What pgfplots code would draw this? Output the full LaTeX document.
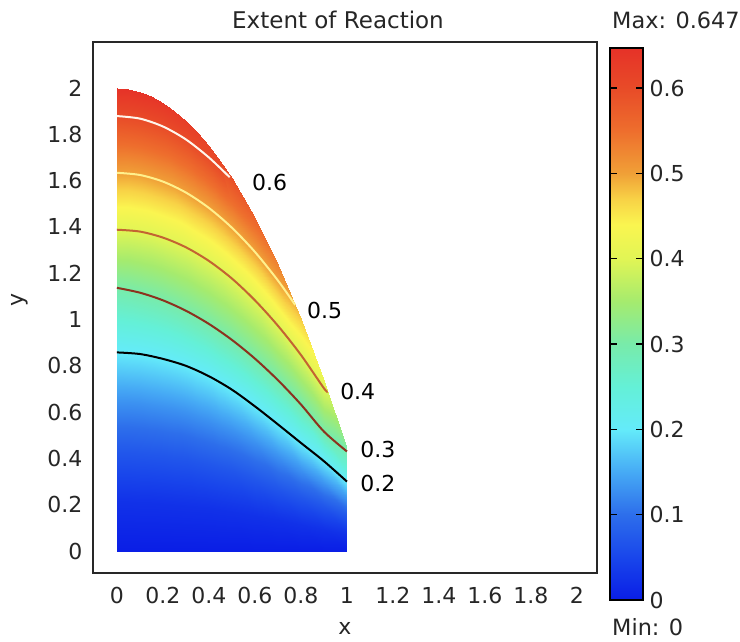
\documentclass[border=0pt]{standalone}
\usepackage{pgfplots}
\pgfplotsset{compat=1.18}
\usepackage{fontspec}
\setmainfont{DejaVu Sans}
\pgfplotsset{colormap={comsol}{
rgb255(0pt)=(10,30,230);
rgb255(50pt)=(25,70,235);
rgb255(100pt)=(45,110,235);
rgb255(150pt)=(70,170,245);
rgb255(200pt)=(100,235,250);
rgb255(250pt)=(100,240,215);
rgb255(300pt)=(120,235,170);
rgb255(350pt)=(165,235,110);
rgb255(400pt)=(225,245,85);
rgb255(440pt)=(250,245,80);
rgb255(470pt)=(248,210,70);
rgb255(500pt)=(240,160,55);
rgb255(550pt)=(238,110,45);
rgb255(600pt)=(232,75,40);
rgb255(647pt)=(230,50,40)}}
\definecolor{axgray}{RGB}{40,40,40}
\definecolor{cthree}{RGB}{140,50,30}
\definecolor{cfour}{RGB}{195,100,50}
\definecolor{cfive}{RGB}{255,240,140}
\definecolor{csix}{RGB}{255,246,236}
\pgfplotstableread{
x y v
0 0 0
0 0.2145 0.025
0 0.429 0.071
0 0.6435 0.13
0 0.858 0.2
0 1.137 0.3
0 1.388 0.4
0 1.634 0.5
0 1.879 0.6
0 2.0 0.647
0.05 0 0
0.05 0.214 0.025
0.05 0.428 0.071
0.05 0.642 0.13
0.05 0.856 0.2
0.05 1.128 0.3
0.05 1.386 0.4
0.05 1.632 0.5
0.05 1.876 0.6
0.05 1.9961 0.646
0.1 0 0
0.1 0.2128 0.025
0.1 0.4255 0.071
0.1 0.6383 0.13
0.1 0.851 0.2
0.1 1.116 0.3
0.1 1.380 0.4
0.1 1.6245 0.5
0.1 1.868 0.6
0.1 1.9844 0.645
0.15 0 0
0.15 0.2105 0.025
0.15 0.421 0.071
0.15 0.6315 0.13
0.15 0.842 0.2
0.15 1.101 0.3
0.15 1.369 0.4
0.15 1.613 0.5
0.15 1.854 0.6
0.15 1.9649 0.642
0.2 0 0
0.2 0.2075 0.025
0.2 0.415 0.071
0.2 0.6225 0.13
0.2 0.830 0.2
0.2 1.083 0.3
0.2 1.354 0.4
0.2 1.596 0.5
0.2 1.834 0.6
0.2 1.9376 0.638
0.25 0 0
0.25 0.204 0.025
0.25 0.408 0.071
0.25 0.612 0.13
0.25 0.816 0.2
0.25 1.062 0.3
0.25 1.335 0.4
0.25 1.575 0.5
0.25 1.809 0.6
0.25 1.9025 0.633
0.3 0 0
0.3 0.2 0.025
0.3 0.4 0.071
0.3 0.6 0.13
0.3 0.800 0.2
0.3 1.038 0.3
0.3 1.312 0.4
0.3 1.5485 0.5
0.3 1.778 0.6
0.3 1.8596 0.626
0.35 0 0
0.35 0.1948 0.025
0.35 0.3895 0.071
0.35 0.5843 0.13
0.35 0.779 0.2
0.35 1.011 0.3
0.35 1.284 0.4
0.35 1.518 0.5
0.35 1.742 0.6
0.35 1.8089 0.619
0.4 0 0
0.4 0.1888 0.025
0.4 0.3775 0.071
0.4 0.5663 0.13
0.4 0.755 0.2
0.4 0.981 0.3
0.4 1.253 0.4
0.4 1.482 0.5
0.4 1.700 0.6
0.4 1.7504 0.611
0.45 0 0
0.45 0.1818 0.025
0.45 0.3635 0.071
0.45 0.5453 0.13
0.45 0.727 0.2
0.45 0.948 0.3
0.45 1.217 0.4
0.45 1.442 0.5
0.45 1.6522 0.6
0.45 1.6841 0.604
0.5 0 0
0.5 0.1743 0.025
0.5 0.3485 0.071
0.5 0.5228 0.13
0.5 0.697 0.2
0.5 0.912 0.3
0.5 1.177 0.4
0.5 1.3965 0.5
0.5 1.503 0.55
0.5 1.61 0.595
0.6 0 0
0.6 0.1563 0.025
0.6 0.3125 0.071
0.6 0.4688 0.13
0.6 0.625 0.2
0.6 0.831 0.3
0.6 1.083 0.4
0.6 1.292 0.5
0.6 1.365 0.535
0.6 1.4384 0.565
0.7 0 0
0.7 0.1368 0.025
0.7 0.2735 0.071
0.7 0.4103 0.13
0.7 0.547 0.2
0.7 0.738 0.3
0.7 0.973 0.4
0.7 1.1685 0.5
0.7 1.202 0.515
0.7 1.2356 0.53
0.8 0 0
0.8 0.1168 0.025
0.8 0.2335 0.071
0.8 0.3503 0.13
0.8 0.467 0.2
0.8 0.633 0.3
0.8 0.847 0.4
0.8 0.899 0.425
0.8 0.950 0.45
0.8 1.0016 0.475
0.9 0 0
0.9 0.097 0.025
0.9 0.194 0.071
0.9 0.291 0.13
0.9 0.388 0.2
0.9 0.516 0.3
0.9 0.703 0.4
0.9 0.714 0.403
0.9 0.725 0.406
0.9 0.7364 0.41
1.0 0 0
1.0 0.075 0.025
1.0 0.15 0.071
1.0 0.225 0.13
1.0 0.30 0.2
1.0 0.34 0.24
1.0 0.37 0.26
1.0 0.40 0.28
1.0 0.43 0.30
1.0 0.44 0.305
}\fielddata
\pgfplotstableread{
x y v
0 0 0
1 0 0
0 0.647 0.647
1 0.647 0.647
}\bardata
\begin{document}
\fontsize{22}{26}\selectfont
\begin{tikzpicture}
\path[use as bounding box] (-93pt,-68pt) rectangle (647pt,573pt);
\begin{axis}[
  at={(0pt,0pt)}, anchor=south west,
  scale only axis, width=504pt, height=531pt,
  xmin=-0.104, xmax=2.087, ymin=-0.095, ymax=2.199,
  colormap name=comsol,
  point meta min=0, point meta max=0.647,
  axis line style={draw=axgray, line width=1.3pt},
  major tick length=0pt,
  xtick={0,0.2,0.4,0.6,0.8,1,1.2,1.4,1.6,1.8,2},
  ytick={0,0.2,0.4,0.6,0.8,1,1.2,1.4,1.6,1.8,2},
  xticklabels={0,0.2,0.4,0.6,0.8,1,1.2,1.4,1.6,1.8,2},
  yticklabels={0,0.2,0.4,0.6,0.8,1,1.2,1.4,1.6,1.8,2},
  tick label style={font=\fontsize{22}{26}\selectfont, text=black!85},
  yticklabel style={xshift=-3pt},
  xticklabel style={yshift=-7pt},
]
\addplot[surf, shader=interp, mesh/ordering=y varies, mesh/rows=10, mesh/cols=16, point meta=explicit]
  table[x=x, y=y, meta=v] {\fielddata};
% contour lines
\addplot[black, line width=2pt, smooth] coordinates {
(0,0.858) (0.1,0.851) (0.2,0.830) (0.3,0.800) (0.4,0.755) (0.5,0.697) (0.6,0.625) (0.7,0.547) (0.8,0.467) (0.9,0.388) (1.0,0.30)};
\addplot[cthree, line width=2pt, smooth] coordinates {
(0,1.137) (0.1,1.116) (0.2,1.083) (0.3,1.038) (0.4,0.981) (0.5,0.912) (0.6,0.831) (0.7,0.738) (0.8,0.633) (0.9,0.516) (1.0,0.43)};
\addplot[cfour, line width=2pt, smooth] coordinates {
(0,1.388) (0.1,1.380) (0.2,1.354) (0.3,1.312) (0.4,1.253) (0.5,1.177) (0.6,1.083) (0.7,0.973) (0.8,0.847) (0.9,0.703) (0.915,0.69)};
\addplot[cfive, line width=2pt, smooth] coordinates {
(0,1.634) (0.1,1.6245) (0.2,1.596) (0.3,1.5485) (0.4,1.482) (0.5,1.3965) (0.6,1.292) (0.7,1.1685) (0.775,1.063)};
\addplot[csix, line width=2pt, smooth] coordinates {
(0,1.879) (0.1,1.868) (0.2,1.834) (0.3,1.778) (0.4,1.700) (0.49,1.615)};
\node[anchor=west, inner sep=0pt, font=\fontsize{22}{26}\selectfont] at (axis cs:0.587,1.59) {0.6};
\node[anchor=west, inner sep=0pt, font=\fontsize{22}{26}\selectfont] at (axis cs:0.826,1.04) {0.5};
\node[anchor=west, inner sep=0pt, font=\fontsize{22}{26}\selectfont] at (axis cs:0.97,0.69) {0.4};
\node[anchor=west, inner sep=0pt, font=\fontsize{22}{26}\selectfont] at (axis cs:1.057,0.44) {0.3};
\node[anchor=west, inner sep=0pt, font=\fontsize{22}{26}\selectfont] at (axis cs:1.057,0.29) {0.2};
\end{axis}
% colour bar
\begin{axis}[
  at={(517pt,525pt)}, anchor=north west,
  scale only axis, width=33pt, height=552pt,
  xmin=0, xmax=1, ymin=0, ymax=0.647,
  colormap name=comsol,
  point meta min=0, point meta max=0.647,
  xtick=\empty,
  ytick={0,0.1,0.2,0.3,0.4,0.5,0.6},
  yticklabels={0,0.1,0.2,0.3,0.4,0.5,0.6},
  ytick pos=both, yticklabel pos=right,
  tick align=inside, major tick length=7pt,
  major tick style={draw=black, line width=1.3pt},
  axis line style={draw=black, line width=1.3pt},
  tick label style={font=\fontsize{22}{26}\selectfont, text=black!85},
  yticklabel style={xshift=-1pt},
  axis on top,
]
\addplot[surf, shader=interp, mesh/rows=2, mesh/cols=2, point meta=explicit]
  table[x=x, y=y, meta=v] {\bardata};
\end{axis}
\node[anchor=base west, inner sep=0pt, text=black!85, font=\fontsize{23}{27}\selectfont] at (139pt,544pt) {Extent of Reaction};
\node[anchor=base west, inner sep=0pt, text=black!85, font=\fontsize{22.4}{26}\selectfont] at (519pt,544pt) {Max: 0.647};
\node[anchor=base west, inner sep=0pt, text=black!85, font=\fontsize{22.4}{26}\selectfont] at (519pt,-62pt) {Min: 0};
\node[rotate=90, inner sep=0pt, text=black!85] at (-73pt,273pt) {y};
\node[inner sep=0pt, text=black!85] at (252pt,-55pt) {x};
\end{tikzpicture}
\end{document}
